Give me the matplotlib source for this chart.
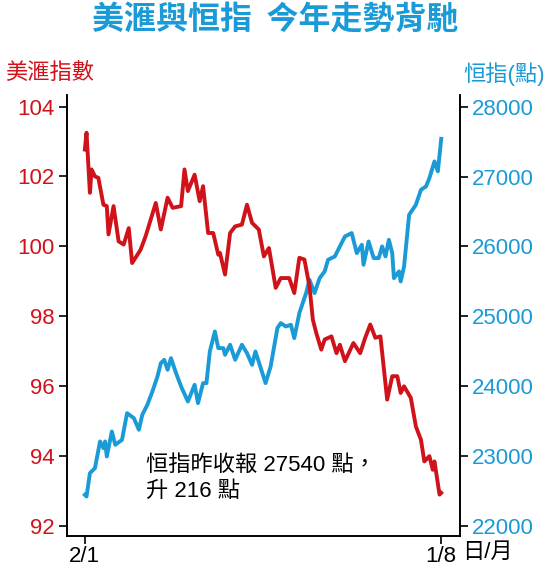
import matplotlib
matplotlib.use("Agg")
import matplotlib.pyplot as plt

plt.rcParams['font.family'] = ['Liberation Sans', 'Noto Sans CJK TC', 'DejaVu Sans']

RED = '#d0121b'
BLUE = '#1a9ad6'

# day offsets from 2 Jan
usd_days = [0, 1, 3, 4, 6, 8, 11, 13, 14, 17, 20, 23, 26, 28, 33, 36, 42, 45, 49, 52,
            57, 59, 61, 65, 68, 70, 73, 76, 79, 80, 83, 86, 89, 93, 96, 99, 103, 106,
            109, 113, 116, 121, 124, 127, 130, 133, 135, 137, 140, 142, 146, 149, 151,
            154, 159, 163, 166, 169, 172, 175, 179, 182, 185, 187, 189, 193, 196, 199,
            201, 204, 206, 207, 210, 211]
usd_vals = [102.77, 103.25, 101.53, 102.20, 102.00, 101.96, 101.19, 101.15, 100.34, 101.15,
            100.14, 100.05, 100.52, 99.52, 99.90, 100.29, 101.24, 100.48, 101.39, 101.10,
            101.15, 102.20, 101.58, 102.05, 101.29, 101.72, 100.38, 100.38, 99.76, 99.81,
            99.19, 100.38, 100.57, 100.62, 101.19, 100.67, 100.48, 99.71, 99.95, 98.81,
            99.09, 99.09, 98.66, 99.67, 99.62, 98.85, 97.90, 97.52, 97.04, 97.33, 97.42,
            96.94, 97.18, 96.71, 97.23, 96.94, 97.38, 97.76, 97.38, 97.42, 95.61, 96.28,
            96.28, 95.80, 95.99, 95.66, 94.84, 94.46, 93.84, 93.99, 93.60, 93.84, 92.89, 92.94]

hsi_days = [0, 1, 3, 6, 9, 11, 12, 13, 16, 18, 22, 25, 29, 32, 34, 37, 40, 43, 45, 47,
            49, 51, 54, 57, 61, 65, 67, 70, 72, 74, 77, 79, 82, 83, 86, 89, 93, 96, 99,
            101, 107, 110, 114, 116, 119, 122, 124, 127, 131, 133, 136, 139, 142, 144,
            148, 151, 154, 158, 161, 164, 165, 168, 171, 174, 176, 178, 180, 182, 183,
            186, 187, 189, 192, 196, 199, 202, 204, 207, 209, 211]
hsi_vals = [22444, 22420, 22754, 22826, 23208, 23112, 23208, 22993, 23351, 23160, 23231,
            23613, 23542, 23375, 23589, 23732, 23923, 24138, 24329, 24377, 24234, 24401,
            24186, 23995, 23780, 24019, 23756, 24043, 24043, 24496, 24783, 24544, 24544,
            24448, 24592, 24377, 24592, 24472, 24305, 24496, 24043, 24281, 24830, 24902,
            24854, 24878, 24687, 25045, 25332, 25522, 25332, 25546, 25642, 25809, 25856,
            26000, 26143, 26191, 25904, 26024, 25737, 26071, 25833, 25833, 26000, 25856,
            26095, 25904, 25546, 25642, 25498, 25713, 26453, 26596, 26811, 26859, 26978,
            27217, 27074, 27540]

usd_ticks = [92, 94, 96, 98, 100, 102, 104]
hsi_ticks = [22000, 23000, 24000, 25000, 26000, 27000, 28000]
x_ticks = [0, 211]
x_labels = ['2/1', '1/8']

fig = plt.figure(figsize=(5.5, 5.67), dpi=100)
ax = fig.add_axes([0.122, 0.055, 0.714, 0.778])
ax2 = ax.twinx()

ax.plot(usd_days, usd_vals, color=RED, lw=2.8, zorder=3)
ax2.plot(hsi_days, hsi_vals, color=BLUE, lw=2.8)
ax.set_zorder(ax2.get_zorder() + 1)
ax.patch.set_visible(False)

ax.set_xlim(-10.5, 222)
ax.set_ylim(91.71, 104.34)
ax2.set_ylim(21857, 28172)
ax.set_yticks(usd_ticks)
ax2.set_yticks(hsi_ticks)
ax.set_xticks(x_ticks)
ax.set_xticklabels(x_labels)

for a in (ax, ax2):
    a.spines['top'].set_visible(False)
    for s in a.spines.values():
        s.set_linewidth(1.2)
ax.tick_params(axis='y', colors='black', labelcolor=RED, labelsize=16, length=6, width=1.2, pad=3)
ax2.tick_params(axis='y', colors='black', labelcolor=BLUE, labelsize=16, length=6, width=1.2, pad=3)
ax.tick_params(axis='x', labelsize=16, length=6, width=1.2, pad=1)

fig.text(0.5, 0.965, '美滙與恒指  今年走勢背馳', color=BLUE, fontsize=23,
         fontweight='heavy', ha='center', va='center', family='Noto Sans CJK TC')
fig.text(0.01, 0.87, '美滙指數', color=RED, fontsize=16, va='center')
fig.text(0.99, 0.87, '恒指(點)', color=BLUE, fontsize=16, ha='right', va='center')
fig.text(0.84, 0.025, '日/月', fontsize=16, va='center')
ax.text(0.2, 0.13, '恒指昨收報 27540 點，\n升 216 點', transform=ax.transAxes,
        fontsize=16, va='center', linespacing=1.3)

fig.savefig('out.png', dpi=100)
